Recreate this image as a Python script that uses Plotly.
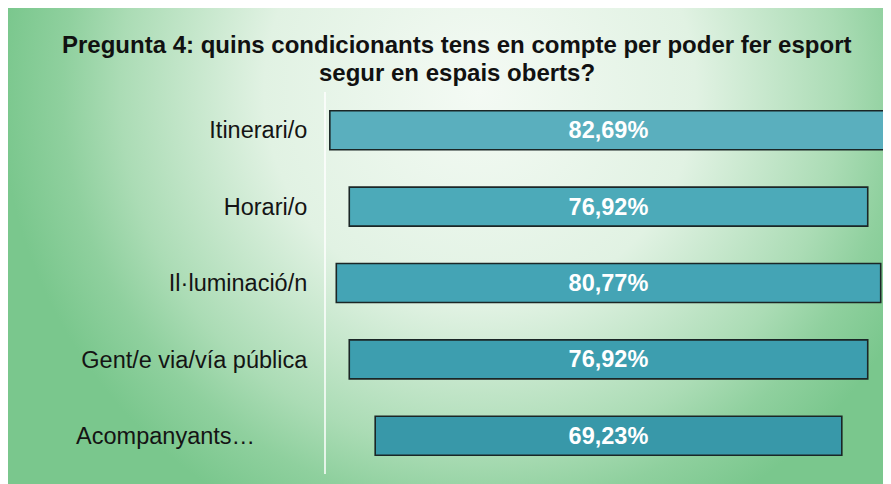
import base64
import plotly.graph_objects as go

# ---- data ----
categories = ["Itinerari/o", "Horari/o", "Il·luminació/n", "Gent/e via/vía pública", "Acompanyants…"]
values = [82.69, 76.92, 80.77, 76.92, 69.23]
title_lines = ["Pregunta 4: quins condicionants tens en compte per poder fer esport",
               "segur en espais oberts?"]

# ---- style ----
bar_colors = ["#5aafbe", "#4caab9", "#44a4b5", "#3d9eaf", "#3898a9"]
W, H = 891, 484
ML, MR, MT, MB = 318, 7.6, 84, 18
PW, PH = W - ML - MR, H - MT - MB

value_text = [f"{v:.2f}".replace(".", ",") + "%" for v in values]
tick_text = [c + "\u00a0" * 8 if c.endswith("…") else c for c in categories]

# background gradient (decoration), covers the whole figure
svg = f'''<svg xmlns="http://www.w3.org/2000/svg" width="{W}" height="{H}" viewBox="0 0 {W} {H}" preserveAspectRatio="none">
<defs><radialGradient id="g" gradientUnits="userSpaceOnUse" cx="472" cy="82" r="480">
<stop offset="0" stop-color="#f4faf4"/>
<stop offset="0.45" stop-color="#e1f2e3"/>
<stop offset="0.75" stop-color="#abdcb5"/>
<stop offset="0.87" stop-color="#8fd09e"/>
<stop offset="1" stop-color="#7ac78d"/>
</radialGradient></defs>
<rect x="0" y="0" width="{W}" height="{H}" fill="url(#g)"/>
</svg>'''
src = "data:image/svg+xml;base64," + base64.b64encode(svg.encode()).decode()

fig = go.Figure(go.Funnel(
    y=categories,
    x=values,
    text=value_text,
    textinfo="text",
    textposition="inside",
    insidetextanchor="middle",
    constraintext="none",
    textangle=0,
    textfont=dict(family="Liberation Sans, Arial, sans-serif", size=23.5, color="white", weight="bold"),
    marker=dict(color=bar_colors, line=dict(color="#1b2626", width=1.6)),
    connector=dict(visible=False),
    hoverinfo="skip",
))

half = PW / 2 / 6.745
fig.update_layout(
    width=W, height=H,
    margin=dict(l=ML, r=MR, t=MT, b=MB, pad=0),
    paper_bgcolor="#7ac78d",
    plot_bgcolor="rgba(0,0,0,0)",
    funnelgap=0.49,
    showlegend=False,
    xaxis=dict(visible=False, range=[-half, half]),
    yaxis=dict(
        tickmode="array", tickvals=categories, ticktext=tick_text,
        ticks="outside", ticklen=12, tickcolor="rgba(0,0,0,0)",
        tickfont=dict(family="Liberation Sans, Arial, sans-serif", size=23.5, color="#141414"),
        showline=True, linecolor="rgba(255,255,255,0.75)", linewidth=2,
        showgrid=False, zeroline=False,
        range=[len(categories) - 0.5, -0.5],
    ),
    images=[dict(
        source=src, xref="paper", yref="paper",
        x=-ML / PW, y=(H - MB) / PH,
        sizex=W / PW, sizey=H / PH,
        xanchor="left", yanchor="top", sizing="stretch", layer="below",
    )],
    annotations=[
        dict(text=title_lines[0], xref="paper", yref="paper",
             x=(449 - ML) / PW, y=(H - MB - 36) / PH, xanchor="center", yanchor="middle",
             showarrow=False,
             font=dict(family="Liberation Sans, Arial, sans-serif", size=24, color="#111111", weight="bold")),
        dict(text=title_lines[1], xref="paper", yref="paper",
             x=(449 - ML) / PW, y=(H - MB - 64) / PH, xanchor="center", yanchor="middle",
             showarrow=False,
             font=dict(family="Liberation Sans, Arial, sans-serif", size=24, color="#111111", weight="bold")),
    ],
)

fig.write_html("out.html")
